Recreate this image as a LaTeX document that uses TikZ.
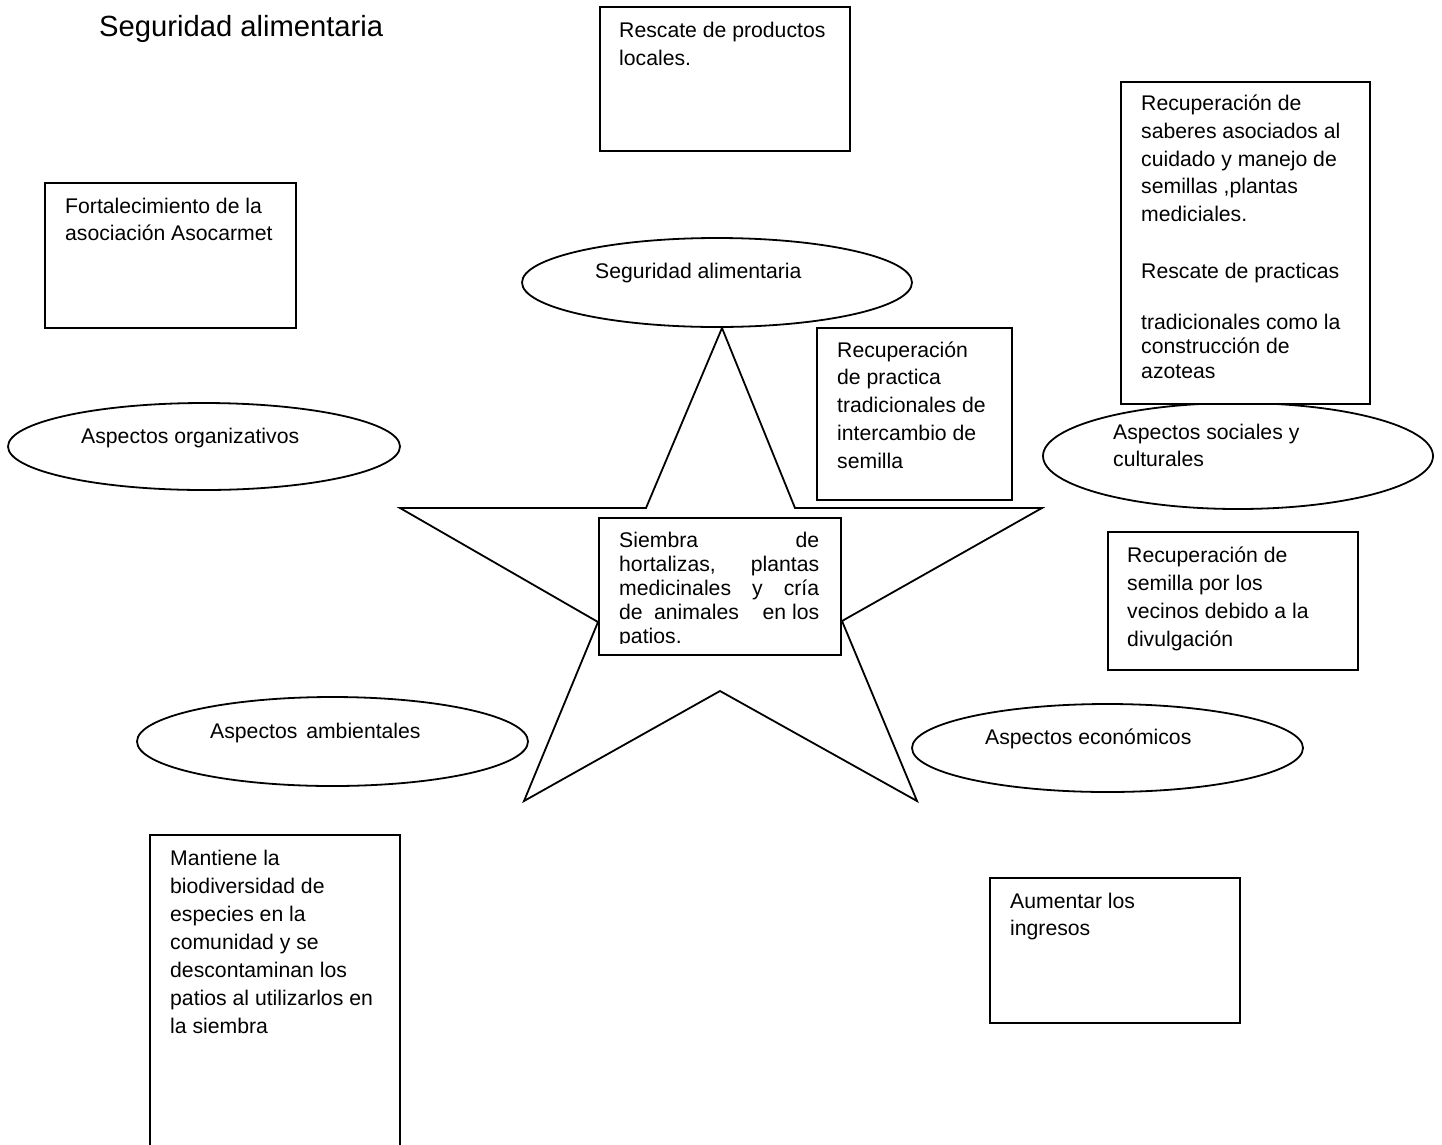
\documentclass[tikz,border=0pt]{standalone}
\usepackage{fontspec}
\setmainfont{Liberation Sans}
\usetikzlibrary{shapes.geometric}
\newcommand{\tline}[1]{\hbox{#1}}
\begin{document}
\begin{tikzpicture}[x=1pt,y=-1pt,
  shapeline/.style={draw=black, line width=1.8pt},
  box/.style={shapeline, rectangle, fill=white, inner sep=0pt, anchor=north west},
  oval/.style={shapeline, ellipse, fill=white, inner sep=0pt},
  txt/.style={inner sep=0pt, anchor=base west, font=\fontsize{21.2}{27.75}\selectfont},
]
\useasboundingbox[fill=white] (0,0) rectangle (1442,1144);

% star
\coordinate (sTop) at (722,328);
\coordinate (sIUR) at (795,508);
\coordinate (sRT) at (1042,508);
\coordinate (sILR) at (842,621);
\coordinate (sBRT) at (917,801);
\coordinate (sBot) at (720,691);
\coordinate (sBLT) at (524,801);
\coordinate (sILL) at (598,622);
\coordinate (sLT) at (400,508);
\coordinate (sIUL) at (646,508);
\draw[shapeline, line join=miter] (sTop) -- (sIUR) -- (sRT) -- (sILR) -- (sBRT) -- (sBot) -- (sBLT) -- (sILL) -- (sLT) -- (sIUL) -- cycle;

% ellipses
\node[oval, minimum width=390pt, minimum height=89pt] (segE) at (717,282.5) {};
\node[oval, minimum width=392pt, minimum height=87pt] (orgE) at (204,446.5) {};
\node[oval, minimum width=390pt, minimum height=106pt] (socE) at (1238,456) {};
\node[oval, minimum width=391pt, minimum height=89pt] (ambE) at (332.5,741.5) {};
\node[oval, minimum width=391pt, minimum height=88pt] (ecoE) at (1107.5,748) {};

% boxes
\node[box, minimum width=250pt, minimum height=144pt] (rescate) at (599,6) {};
\node[box, minimum width=251pt, minimum height=145pt] (fort) at (44,182) {};
\node[box, minimum width=249pt, minimum height=322pt] (saberes) at (1120,81) {};
\node[box, minimum width=195pt, minimum height=172pt] (practica) at (816,327) {};
\node[box, minimum width=242pt, minimum height=137pt] (siembra) at (598,517) {};
\node[box, minimum width=250pt, minimum height=138pt] (vecinos) at (1107,531) {};
\node[box, minimum width=250pt, minimum height=330pt] (mantiene) at (149,834) {};
\node[box, minimum width=250pt, minimum height=145pt] (aumentar) at (989,877) {};

% texts
\node[txt, font=\fontsize{29.2}{35}\selectfont] (title) at (99,36) {Seguridad alimentaria};
\node[txt, font=\fontsize{21.2}{28}\selectfont] (tRescate) at (619,37) {\vtop{\tline{Rescate de productos}\tline{locales.}}};
\node[txt] (tSeg) at (595,278) {Seguridad alimentaria};
\node[txt, font=\fontsize{21.2}{27.5}\selectfont] (tFort) at (65,213) {\vtop{\tline{Fortalecimiento de la}\tline{asociación Asocarmet}}};
\node[txt] (tOrg) at (81,443) {Aspectos organizativos};
\node[txt] (tSaberes) at (1141,110.7) {\vtop{\tline{Recuperación de}%
\tline{saberes asociados al}%
\tline{cuidado y manejo de}%
\tline{semillas ,plantas}%
\tline{mediciales.}\vskip 28.55pt
\tline{Rescate de practicas}\vskip 23.25pt
\tline{tradicionales como la}\vskip -3.25pt
\tline{construcción de}\vskip -3.25pt
\tline{azoteas}}};
\node[txt] (tPractica) at (837,357) {\vtop{\tline{Recuperación}\tline{de practica}\tline{tradicionales de}\tline{intercambio de}\tline{semilla}}};
\node[txt, font=\fontsize{21.2}{27}\selectfont] (tSoc) at (1113,439) {\vtop{\tline{Aspectos sociales y}\tline{culturales}}};
\begin{scope}
\clip (598,517) rectangle (840,643.5);
\node[txt, font=\fontsize{21.2}{24.2}\selectfont] (tSiembra) at (619,547) {\vtop{%
\hbox to 200pt{Siembra\hfill de}%
\hbox to 200pt{hortalizas,\hfill plantas}%
\hbox to 200pt{medicinales\hfill y\hfill cría}%
\hbox to 200pt{de\hspace{11.4pt}animales\hfill en los}%
\tline{patios.}}};
\end{scope}
\node[txt, font=\fontsize{21.2}{28}\selectfont] (tVecinos) at (1127,562) {\vtop{\tline{Recuperación de}\tline{semilla por los}\tline{vecinos debido a la}\tline{divulgación}}};
\node[txt] (tAmb) at (210,738) {Aspectos\hspace{3pt} ambientales};
\node[txt] (tEco) at (985,744) {Aspectos económicos};
\node[txt, font=\fontsize{21.2}{28}\selectfont] (tMantiene) at (170,865) {\vtop{\tline{Mantiene la}\tline{biodiversidad de}\tline{especies en la}\tline{comunidad y se}\tline{descontaminan los}\tline{patios al utilizarlos en}\tline{la siembra}}};
\node[txt, font=\fontsize{21.2}{27}\selectfont] (tAumentar) at (1010,908) {\vtop{\tline{Aumentar los}\tline{ingresos}}};
\end{tikzpicture}
\end{document}
